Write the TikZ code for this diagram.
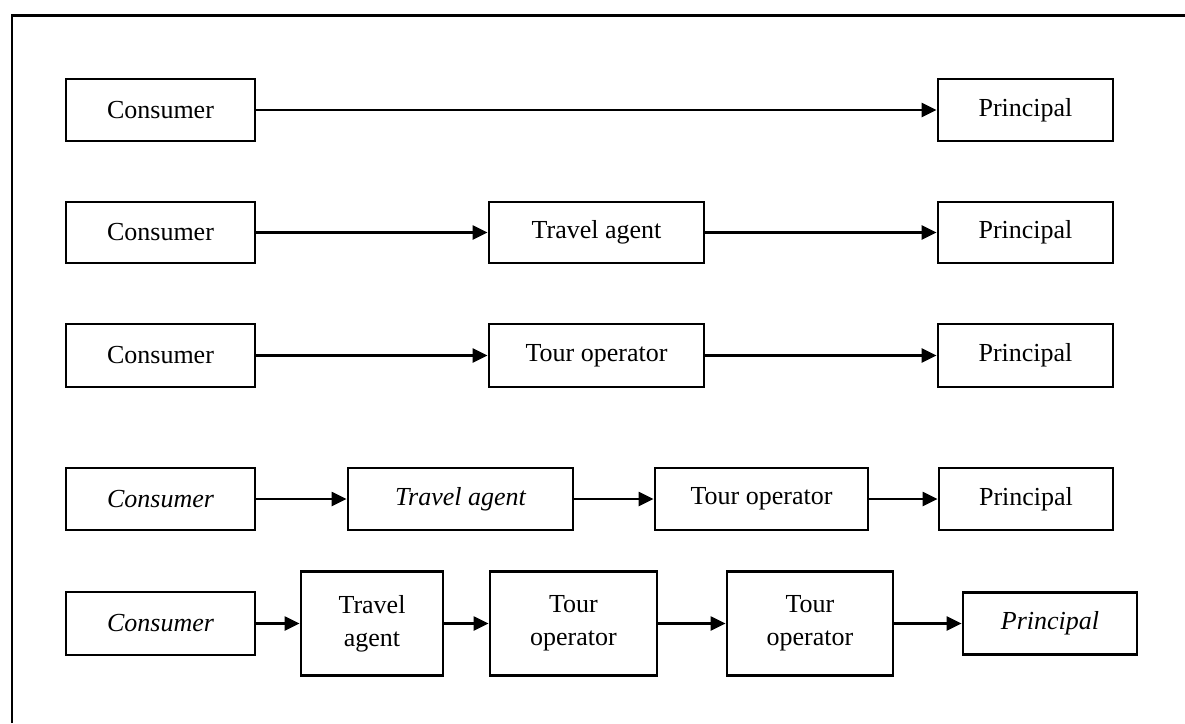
\documentclass[tikz,border=0pt]{standalone}
\usepackage{fontspec}
\setmainfont{Liberation Serif}
\usetikzlibrary{arrows.meta}
\begin{document}
\begin{tikzpicture}[x=1pt,y=-1pt,
  box/.style={draw, line width=2.8pt, inner sep=0pt, align=center,
    font=\fontsize{26}{33}\selectfont},
  flow/.style={line width=2.3pt, -{Triangle[length=15pt,width=14pt]}},
  frame/.style={line width=2.8pt}]
\useasboundingbox (0,0) rectangle (1185,723);

% open frame: left and top edges
\draw[frame] (12,723) -- (12,15.5) -- (1185,15.5);

% row 1: consumer straight to principal
\node[box, minimum width=189pt, minimum height=62pt] (c1) at (160.5,110) {Consumer};
\node[box, minimum width=175pt, minimum height=62pt] (p1) at (1025.5,110) {Principal};
\draw[flow] (c1) -- (p1);

% row 2: via travel agent
\node[box, minimum width=189pt, minimum height=61pt] (c2) at (160.5,232.5) {Consumer};
\node[box, minimum width=215pt, minimum height=61pt] (t2) at (596.5,232.5) {Travel agent};
\node[box, minimum width=175pt, minimum height=61pt] (p2) at (1025.5,232.5) {Principal};
\draw[flow] (c2) -- (t2);
\draw[flow] (t2) -- (p2);

% row 3: via tour operator
\node[box, minimum width=189pt, minimum height=63pt] (c3) at (160.5,355.5) {Consumer};
\node[box, minimum width=215pt, minimum height=63pt] (o3) at (596.5,355.5) {Tour operator};
\node[box, minimum width=175pt, minimum height=63pt] (p3) at (1025.5,355.5) {Principal};
\draw[flow] (c3) -- (o3);
\draw[flow] (o3) -- (p3);

% row 4: travel agent then tour operator
\node[box, minimum width=189pt, minimum height=62pt] (c4) at (160.5,499) {\itshape Consumer};
\node[box, minimum width=225pt, minimum height=62pt] (t4) at (460.5,499) {\itshape Travel agent};
\node[box, minimum width=213pt, minimum height=62pt] (o4) at (761.5,499) {Tour operator};
\node[box, minimum width=174pt, minimum height=62pt] (p4) at (1026,499) {Principal};
\draw[flow] (c4) -- (t4);
\draw[flow] (t4) -- (o4);
\draw[flow] (o4) -- (p4);

% row 5: travel agent and two tour operators
\node[box, minimum width=189pt, minimum height=63pt] (c5) at (160.5,623.5) {\itshape Consumer};
\node[box, minimum width=142pt, minimum height=104pt] (t5) at (372,623.5) {Travel\\agent};
\node[box, minimum width=167pt, minimum height=104pt] (o5a) at (573.5,623.5) {Tour\\operator};
\node[box, minimum width=166pt, minimum height=104pt] (o5b) at (810,623.5) {Tour\\operator};
\node[box, minimum width=174pt, minimum height=62pt] (p5) at (1050,623.5) {\itshape Principal};
\draw[flow] (c5) -- (t5);
\draw[flow] (t5) -- (o5a);
\draw[flow] (o5a) -- (o5b);
\draw[flow] (o5b) -- (p5);
\end{tikzpicture}
\end{document}
